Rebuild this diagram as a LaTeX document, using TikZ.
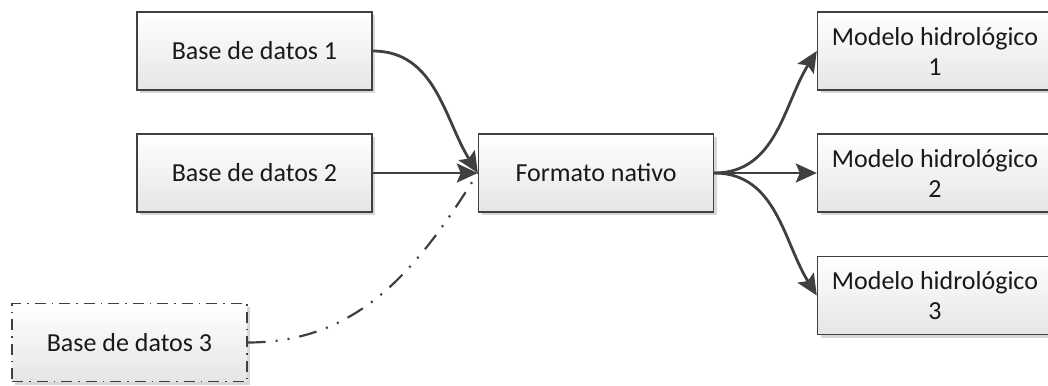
\documentclass[tikz,border=0pt]{standalone}
\usepackage{fontspec}
\setmainfont{Carlito}
\usetikzlibrary{arrows.meta,shadows,positioning}
\definecolor{ink}{HTML}{404040}
\tikzset{
  box/.style={draw=ink, line width=1.4pt, top color=white, bottom color=black!10,
    minimum width=235pt, minimum height=78pt, inner sep=2pt, align=center,
    font=\fontsize{26}{30}\selectfont, text=black!90,
    drop shadow={shadow xshift=3pt, shadow yshift=-3pt, fill=black!35, opacity=.45}},
  dashbox/.style={box, dash pattern=on 11pt off 6pt on 1.5pt off 6pt},
  link/.style={draw=ink, line width=2.8pt,
    -{Stealth[length=21pt,width=19pt,inset=4pt]}},
  dlink/.style={draw=ink, line width=2.2pt,
    dash pattern=on 18pt off 10pt on 2pt off 10pt on 2pt off 10pt}
}
\begin{document}
\begin{tikzpicture}[x=1pt,y=-1pt]
\useasboundingbox (0,0) rectangle (1048,385);
% sources
\node[box] (b1) at (254.5,51) {Base de datos 1};
\node[box] (b2) at (254.5,173) {Base de datos 2};
\node[dashbox] (b3) at (129.5,342.5) {Base de datos 3};
% hub
\node[box] (fmt) at (596,173) {Formato nativo};
% targets
\node[box] (m1) at (935,51) {Modelo hidrológico\\1};
\node[box] (m2) at (935,173) {Modelo hidrológico\\2};
\node[box] (m3) at (935,295.5) {Modelo hidrológico\\3};
% connectors
\draw[dlink] (b3.east) to[out=0,in=238] (fmt.west);
\draw[link] (b1.east) to[out=0,in=122] (fmt.west);
\draw[link] (b2.east) -- (fmt.west);
\draw[link] (fmt.east) to[out=0,in=238] (m1.west);
\draw[link] (fmt.east) -- (m2.west);
\draw[link] (fmt.east) to[out=0,in=122] (m3.west);
\end{tikzpicture}
\end{document}
